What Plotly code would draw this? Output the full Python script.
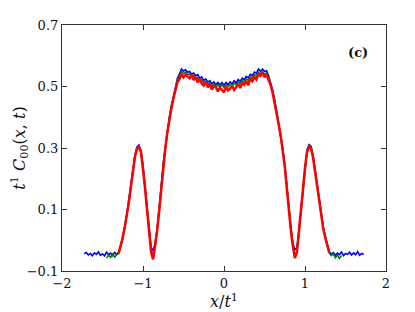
import numpy as np
import plotly.graph_objects as go

STEP = 0.025

# red series: x from -1.300 to 1.300
red_x0 = -1.300
red_y = [
    -0.042, -0.020, 0.008, 0.042, 0.078, 0.122, 0.172, 0.226, 0.270, 0.297,
    0.303, 0.288, 0.238, 0.170, 0.098, 0.025, -0.038, -0.062, -0.022, 0.032,
    0.095, 0.170, 0.245, 0.298, 0.350, 0.392, 0.428, 0.460, 0.486, 0.514,
    0.524, 0.541, 0.530, 0.538, 0.533, 0.527, 0.539, 0.521, 0.530, 0.514,
    0.524, 0.510, 0.503, 0.516, 0.497, 0.507, 0.490, 0.502, 0.498, 0.484,
    0.497, 0.488, 0.481, 0.499, 0.487, 0.493, 0.503, 0.489, 0.497, 0.509,
    0.495, 0.512, 0.506, 0.518, 0.504, 0.526, 0.517, 0.531, 0.523, 0.540,
    0.535, 0.545, 0.530, 0.539, 0.522, 0.505, 0.480, 0.448, 0.412, 0.378,
    0.340, 0.292, 0.240, 0.170, 0.097, 0.033, -0.020, -0.058, -0.040, 0.022,
    0.094, 0.166, 0.236, 0.287, 0.305, 0.298, 0.268, 0.222, 0.170, 0.118,
    0.072, 0.038, 0.008, -0.018, -0.040,
]

# green series: x from -1.450 to 1.450
green_x0 = -1.450
green_y = [
    -0.058, -0.048, -0.056, -0.045, -0.055, -0.047,
    -0.044, -0.022, 0.006, 0.044, 0.080, 0.125, 0.176, 0.229, 0.273, 0.299,
    0.304, 0.286, 0.240, 0.172, 0.100, 0.028, -0.034, -0.054, -0.020, 0.034,
    0.097, 0.172, 0.247, 0.300, 0.352, 0.395, 0.432, 0.465, 0.492, 0.520,
    0.532, 0.548, 0.542, 0.546, 0.538, 0.541, 0.532, 0.536, 0.526, 0.530,
    0.519, 0.523, 0.512, 0.517, 0.506, 0.512, 0.501, 0.508, 0.499, 0.505,
    0.498, 0.506, 0.497, 0.505, 0.499, 0.507, 0.502, 0.511, 0.505, 0.515,
    0.510, 0.519, 0.515, 0.525, 0.520, 0.531, 0.527, 0.538, 0.534, 0.546,
    0.541, 0.549, 0.541, 0.544, 0.529, 0.510, 0.484, 0.452, 0.415, 0.381,
    0.343, 0.295, 0.243, 0.173, 0.100, 0.036, -0.016, -0.052, -0.036, 0.024,
    0.096, 0.168, 0.238, 0.289, 0.306, 0.300, 0.270, 0.224, 0.172, 0.120,
    0.074, 0.040, 0.010, -0.016, -0.042,
    -0.050, -0.044, -0.057, -0.048, -0.059, -0.050,
]

# blue series: x from -1.725 to 1.725
blue_x0 = -1.725
blue_y = [
    -0.044, -0.040, -0.048, -0.043, -0.050, -0.041, -0.046, -0.038, -0.049, -0.044,
    -0.051, -0.039, -0.047, -0.042, -0.050, -0.040, -0.046,
    -0.040, -0.018, 0.010, 0.046, 0.083, 0.128, 0.180, 0.233, 0.277, 0.303,
    0.310, 0.290, 0.243, 0.175, 0.104, 0.034, -0.022, -0.035, -0.010, 0.038,
    0.100, 0.176, 0.251, 0.304, 0.357, 0.400, 0.437, 0.471, 0.498, 0.527,
    0.540, 0.557, 0.550, 0.554, 0.546, 0.549, 0.540, 0.544, 0.535, 0.539,
    0.527, 0.531, 0.520, 0.525, 0.514, 0.519, 0.509, 0.515, 0.506, 0.513,
    0.505, 0.513, 0.504, 0.513, 0.506, 0.515, 0.509, 0.519, 0.512, 0.523,
    0.517, 0.527, 0.522, 0.533, 0.528, 0.540, 0.535, 0.547, 0.543, 0.557,
    0.549, 0.557, 0.549, 0.551, 0.536, 0.516, 0.489, 0.457, 0.420, 0.386,
    0.347, 0.299, 0.247, 0.178, 0.104, 0.040, -0.008, -0.032, -0.024, 0.028,
    0.100, 0.172, 0.242, 0.294, 0.311, 0.305, 0.275, 0.228, 0.176, 0.124,
    0.078, 0.044, 0.013, -0.013, -0.038,
    -0.045, -0.040, -0.049, -0.042, -0.047, -0.038, -0.050, -0.043, -0.046, -0.039,
    -0.048, -0.041, -0.047, -0.037, -0.049, -0.043, -0.046,
]

x_ticks = [-2, -1, 0, 1, 2]
x_ticklabels = ["\u22122", "\u22121", "0", "1", "2"]
y_ticks = [-0.1, 0.1, 0.3, 0.5, 0.7]
y_ticklabels = ["\u22120.1", "0.1", "0.3", "0.5", "0.7"]


def xs(x0, ys):
    return [round(x0 + STEP * i, 4) for i in range(len(ys))]


FONT = "DejaVu Serif"
fig = go.Figure()
fig.add_trace(go.Scatter(x=xs(blue_x0, blue_y), y=blue_y, mode="lines",
                         line=dict(color="#0000ff", width=1.6), showlegend=False))
fig.add_trace(go.Scatter(x=xs(green_x0, green_y), y=green_y, mode="lines",
                         line=dict(color="#008000", width=1.6), showlegend=False))
fig.add_trace(go.Scatter(x=xs(red_x0, red_y), y=red_y, mode="lines",
                         line=dict(color="#ff0000", width=2.5), showlegend=False))

axis_common = dict(showline=True, linecolor="#333333", linewidth=1.2, mirror="ticks",
                   ticks="inside", ticklen=5, tickwidth=1, tickcolor="#333333",
                   showgrid=False, zeroline=False, automargin=False,
                   tickfont=dict(family=FONT, size=13, color="#111111"))

fig.update_layout(
    width=407, height=304,
    margin=dict(l=54, r=29, t=17, b=41),
    paper_bgcolor="white", plot_bgcolor="white",
    font=dict(family=FONT),
    xaxis=dict(range=[-2, 2], tickvals=x_ticks, ticktext=x_ticklabels,
               title=dict(text="<i>x</i>/<i>t</i><sup>1</sup>", standoff=2,
                          font=dict(family=FONT, size=16, color="#111111")),
               **axis_common),
    yaxis=dict(range=[-0.1, 0.7], tickvals=y_ticks, ticktext=y_ticklabels,
               title=dict(text="<i>t</i><sup>1</sup> <i>C</i><sub>00</sub>(<i>x</i>, <i>t</i>)",
                          standoff=6, font=dict(family=FONT, size=16, color="#111111")),
               **axis_common),
    annotations=[dict(x=1.65, y=0.61, xref="x", yref="y", text="<b>(c)</b>", showarrow=False,
                      font=dict(family=FONT, size=13, color="#111111"))],
)

fig.write_html("out.html")
